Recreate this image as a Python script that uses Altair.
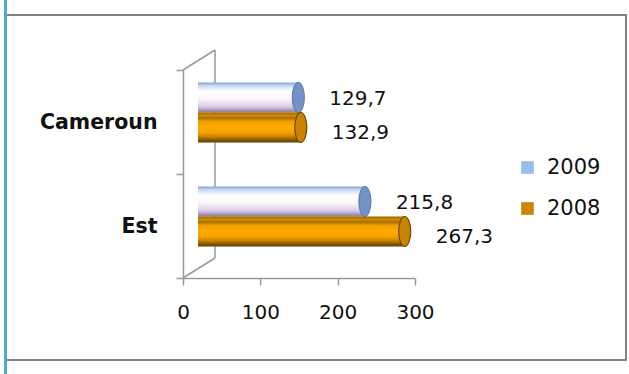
import altair as alt
import pandas as pd

# ---- data ----
categories = ["Cameroun", "Est"]
years = ["2009", "2008"]
values_2009 = [129.7, 215.8]
values_2008 = [132.9, 267.3]
x_ticks = [0, 100, 200, 300]

rows = []
for yr, vals in zip(years, [values_2009, values_2008]):
    for cat, v in zip(categories, vals):
        rows.append({"region": cat, "year": yr, "value": v,
                     "label": f"{v:.1f}".replace(".", ",")})
df = pd.DataFrame(rows)

FONT = "DejaVu Sans"
AXIS_GREY = "#9a9a9a"
W, H = 232, 208
PAD_L, PAD_T = 183, 70

x_enc = alt.X("value:Q",
              scale=alt.Scale(domain=[0, 300], nice=False, zero=True),
              axis=alt.Axis(values=x_ticks, title=None, grid=False,
                            domainColor=AXIS_GREY, domainWidth=1.5,
                            tickColor=AXIS_GREY, tickWidth=1.5, tickSize=7,
                            labelFont=FONT, labelFontSize=20, labelColor="#111",
                            labelPadding=17, labelFlush=False))
y_enc = alt.Y("region:N", sort=categories,
              scale=alt.Scale(paddingInner=0, paddingOuter=0),
              axis=alt.Axis(title=None, grid=False, tickBand="extent",
                            domainColor=AXIS_GREY, domainWidth=1.5,
                            tickColor=AXIS_GREY, tickWidth=1.5, tickSize=7,
                            labelFont=FONT, labelFontSize=20.5, labelFontWeight="bold",
                            labelColor="#111", labelPadding=19))


def grad(stops):
    return alt.Gradient(gradient="linear", x1=0, y1=0, x2=0, y2=1,
                        stops=[alt.GradientStop(offset=o, color=c) for o, c in stops])


grad_2009 = grad([(0, "#7fa4d8"), (0.12, "#cfdcf2"), (0.3, "#ffffff"),
                  (0.55, "#fbf6fc"), (0.8, "#dccbe6"), (1, "#8a7b98")])
grad_2008 = grad([(0, "#9a6400"), (0.1, "#d48c00"), (0.18, "#a86e00"),
                  (0.3, "#f0a000"), (0.5, "#ffaa00"), (0.68, "#f5a000"),
                  (0.8, "#c98500"), (0.9, "#8f5d00"), (1, "#5e3d00")])

base = alt.Chart(df)
one = alt.Chart(pd.DataFrame({"k": [0]}))

# decorative frame and 3-D wall
frame = one.mark_rect(fill=None, stroke="#828282", strokeWidth=2).encode(
    x=alt.value(6 - PAD_L), x2=alt.value(626 - PAD_L),
    y=alt.value(15 - PAD_T), y2=alt.value(360 - PAD_T))
blue_line = one.mark_rule(color="#4aaecb", strokeWidth=3).encode(
    x=alt.value(5.5 - PAD_L), y=alt.value(-PAD_T), y2=alt.value(374 - PAD_T))
wall_top = one.mark_rule(color=AXIS_GREY, strokeWidth=1.5).encode(
    x=alt.value(0), y=alt.value(0), x2=alt.value(32), y2=alt.value(-20))
wall_bottom = one.mark_rule(color=AXIS_GREY, strokeWidth=1.5).encode(
    x=alt.value(0), y=alt.value(H), x2=alt.value(32), y2=alt.value(H - 20))
wall_back = one.mark_rule(color=AXIS_GREY, strokeWidth=1.5).encode(
    x=alt.value(32), y=alt.value(-20), y2=alt.value(H - 20))

cap_path = "M0,-1 A0.4,1 0 1,1 0,1 A0.4,1 0 1,1 0,-1 Z"


def series_layers(yr, fill, cap_fill, cap_stroke, bar_dy, label_dy):
    src = base.transform_filter(alt.datum.year == yr)
    bar = src.mark_bar(color=fill, size=30, yOffset=bar_dy,
                       xOffset=15, x2Offset=11).encode(x=x_enc, y=y_enc)
    cap = src.mark_point(shape=cap_path, size=900, filled=True, fill=cap_fill,
                         stroke=cap_stroke, strokeWidth=1.2, opacity=1,
                         xOffset=15, yOffset=bar_dy).encode(x=x_enc, y=y_enc)
    txt = src.mark_text(align="left", baseline="middle", dx=46, yOffset=label_dy,
                        font=FONT, fontSize=20, color="#111").encode(
        x=x_enc, y=y_enc, text="label:N")
    return [bar, cap, txt]


l09 = series_layers("2009", grad_2009, "#7393c4", "#5d7fb0", -24.5, -23)
l08 = series_layers("2008", grad_2008, "#c88400", "#6e4700", 5.5, 11)

legend_layer = base.mark_square(opacity=0, size=10).encode(
    x=x_enc, y=y_enc,
    color=alt.Color("year:N",
                    scale=alt.Scale(domain=years, range=["#9cbcec", "#c98500"]),
                    legend=alt.Legend(orient="none", legendX=334, legendY=87,
                                      title=None, symbolType="square",
                                      symbolSize=160, symbolOpacity=1,
                                      symbolStrokeWidth=0,
                                      labelFont=FONT, labelFontSize=21,
                                      labelColor="#111", labelOffset=9,
                                      rowPadding=19, padding=0)))

chart = alt.layer(
    frame, blue_line, wall_top, wall_bottom, wall_back,
    l09[0], l09[1], l08[0], l08[1], l09[2], l08[2], legend_layer
).properties(
    width=W, height=H,
    padding={"left": PAD_L, "top": PAD_T, "right": 629 - PAD_L - W, "bottom": 374 - PAD_T - H},
    autosize=alt.AutoSizeParams(type="none"),
    background="white",
).configure_view(stroke=None)

chart.save("out.html", embed_options={"renderer": "svg", "actions": False})
